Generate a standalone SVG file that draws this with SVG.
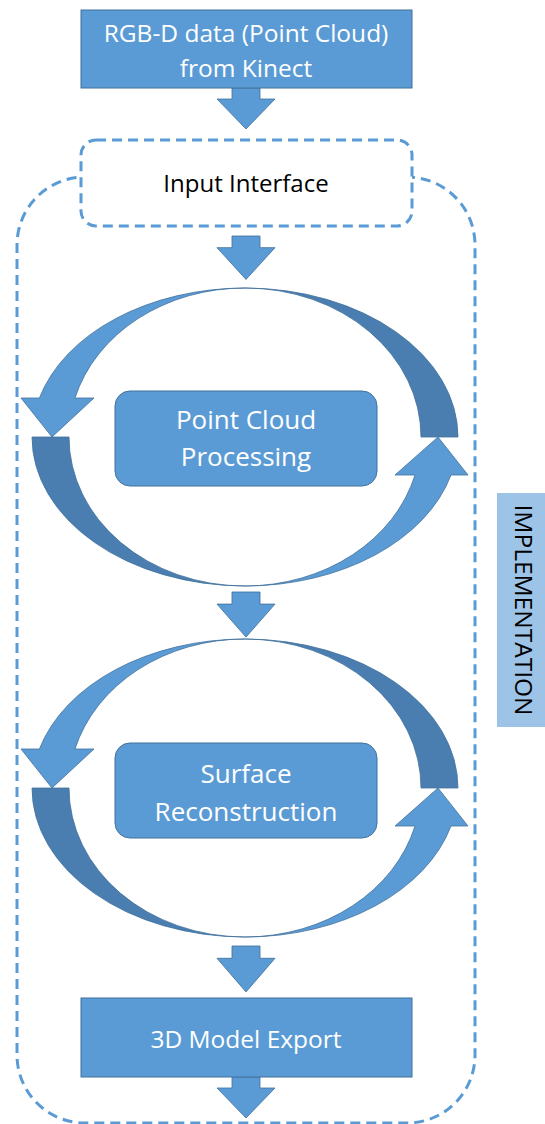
<svg xmlns="http://www.w3.org/2000/svg" width="545" height="1124" viewBox="0 0 545 1124">
<style>
.box{fill:#5b9bd5;stroke:#41719c;stroke-width:1}
.light{fill:#5b9bd5;stroke:#41719c;stroke-width:0.8}
.dark{fill:#4a7eb0;stroke:#41719c;stroke-width:0.8}
.dash{fill:none;stroke:#5b9bd5;stroke-width:3;stroke-dasharray:10,6}
.wt{font-family:"Open Sans","Noto Sans",sans-serif;font-size:24.5px;fill:#ffffff;text-anchor:middle}
.wc{font-family:"Open Sans","Noto Sans",sans-serif;font-size:26px;fill:#ffffff;text-anchor:middle}
.bt{font-family:"Open Sans","Noto Sans",sans-serif;font-size:24px;fill:#000000;text-anchor:middle}
.arrow{fill:#5b9bd5;stroke:#41719c;stroke-width:0.8}
</style>
<defs>
<path id="downArrow" d="M-14,0 L14,0 L14,11 L29,11 L0,41 L-29,11 L-14,11 Z"/>
<g id="cycleShapes">
<path class="light" d="M245,288 A213,149 0 0,0 39.4,398 L21,398 L52,437 L94,398 L75,398 A176,149 0 0,1 245,288 Z"/>
<path class="dark" d="M32,437 A213,149 0 0,0 245,586 A176,149 0 0,1 69,437 Z"/>
<path class="dark" d="M245,288 A213,149 0 0,1 458,437 L421,437 A176,149 0 0,0 245,288 Z"/>
<path class="light" d="M245,586 A213,149 0 0,0 451,475 L468,475 L438,437 L395,475 L415,475 A176,149 0 0,1 245,586 Z"/>
</g>
</defs>

<g id="implementation-container">
<rect class="dash" x="17" y="177" width="458" height="946" rx="68" ry="68"/>
</g>

<g id="implementation-label">
<rect x="497" y="493" width="50" height="234" fill="#9dc3e6"/>
<text transform="translate(515,610) rotate(90)" font-family="'Open Sans','Noto Sans',sans-serif" font-size="24.5" fill="#000" text-anchor="middle">IMPLEMENTATION</text>
</g>

<g id="connectors">
<use href="#downArrow" class="arrow" transform="translate(246,88) scale(1,1)"/>
<use href="#downArrow" class="arrow" transform="translate(246,236) scale(1,1.06)"/>
<use href="#downArrow" class="arrow" transform="translate(246,592) scale(1,1.1)"/>
<use href="#downArrow" class="arrow" transform="translate(246,946) scale(1,1.12)"/>
<use href="#downArrow" class="arrow" transform="translate(246,1077) scale(1,1)"/>
</g>

<g id="node-rgbd">
<rect class="box" x="81" y="10" width="331" height="78"/>
<text class="wt" x="246" y="42">RGB-D data (Point Cloud)</text>
<text class="wt" x="246" y="77">from Kinect</text>
</g>

<g id="node-input">
<rect x="81" y="140" width="331" height="86" rx="15" ry="15" fill="#ffffff" stroke="#5b9bd5" stroke-width="3" stroke-dasharray="10,6"/>
<text class="bt" x="246" y="192">Input Interface</text>
</g>

<g id="cycle-1">
<use href="#cycleShapes"/>
</g>
<g id="node-pcp">
<rect class="box" x="115" y="391" width="262" height="95" rx="15" ry="15"/>
<text class="wc" x="246" y="429">Point Cloud</text>
<text class="wc" x="246" y="466">Processing</text>
</g>

<g id="cycle-2">
<use href="#cycleShapes" transform="translate(0,351)"/>
</g>
<g id="node-surface">
<rect class="box" x="115" y="743" width="262" height="95" rx="15" ry="15"/>
<text class="wc" x="246" y="783">Surface</text>
<text class="wc" x="246" y="821">Reconstruction</text>
</g>

<g id="node-export">
<rect class="box" x="81" y="998" width="331" height="79"/>
<text class="wt" x="246" y="1048">3D Model Export</text>
</g>
</svg>
